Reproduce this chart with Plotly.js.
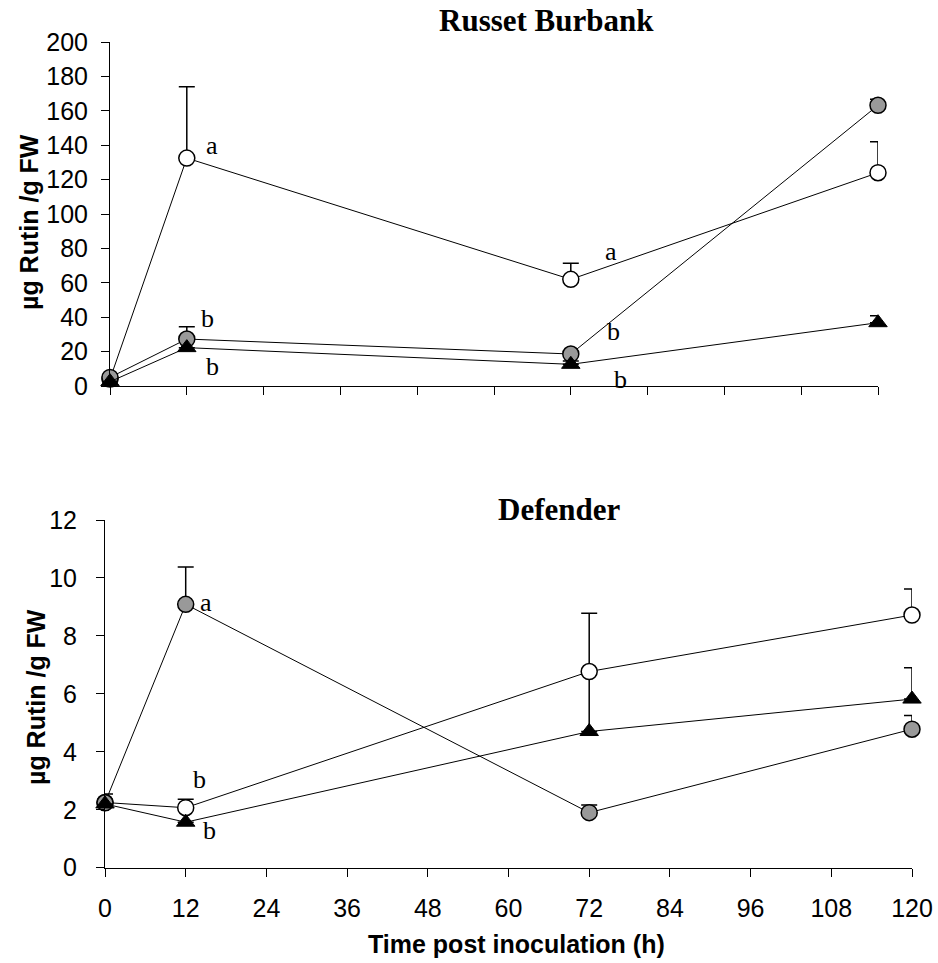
<!DOCTYPE html>
<html>
<head>
<meta charset="utf-8">
<script src="https://cdn.plot.ly/plotly-3.0.1.min.js"></script>
<style>html,body{margin:0;padding:0;background:#fff;} #chart{width:938px;height:963px;}</style>
</head>
<body>
<div id="chart"></div>
<script>
// Time points (h)
const hours = [0, 12, 72, 120];

// Russet Burbank (top)
const rbOpen = [4, 132.5, 62, 124];
const rbOpenErr = [0, 41.5, 9.3, 18];
const rbGray = [5, 27.3, 18.6, 163.2];
const rbGrayErr = [0, 7.2, 1.5, 3.5];
const rbTri = [2.5, 22.3, 12.6, 36.8];
const rbTriErr = [0, 0, 2, 4];

// Defender (bottom)
const dfOpen = [2.25, 2.07, 6.77, 8.72];
const dfOpenErr = [0.29, 0.29, 2.01, 0.9];
const dfOpenErrMinus = [0, 0, 2.17, 0];
const dfGray = [2.24, 9.09, 1.9, 4.78];
const dfGrayErr = [0, 1.29, 0.26, 0.47];
const dfTri = [2.2, 1.57, 4.7, 5.82];
const dfTriErr = [0, 0, 0, 1.08];

// Letter labels
const rbLetters = [
  {t:'a', x:15.9, y:140}, {t:'b', x:15.2, y:39.5}, {t:'b', x:16, y:11.6},
  {t:'a', x:78.3, y:78}, {t:'b', x:78.6, y:31.4}, {t:'b', x:79.8, y:4},
  {t:'a', x:123.4, y:164.5}, {t:'a', x:123.4, y:122.7}, {t:'b', x:123.4, y:39.5}
];
const dfLetters = [
  {t:'a', x:15.0, y:9.15}, {t:'b', x:14.1, y:3.06}, {t:'b', x:15.5, y:1.3}
];

const xTicks = [0, 12, 24, 36, 48, 60, 72, 84, 96, 108, 120];

const W = 938, H = 963;
const px = v => v / W;
const py = v => 1 - v / H;

function series(x, y, err, errMinus, xa, ya, marker, capw) {
  const e = {type:'data', array: err, visible:true, color:'#000', thickness:1.5, width: capw || 8};
  e.symmetric = false;
  e.arrayminus = errMinus ? errMinus : err.map(()=>0);
  return {
    x: x, y: y, xaxis: xa, yaxis: ya, type:'scatter', mode:'lines+markers',
    line:{color:'#000', width:1}, marker: marker, error_y: e, cliponaxis:false, showlegend:false, hoverinfo:'skip'
  };
}
const mOpen = {symbol:'circle', size:16, color:'#fff', line:{color:'#000', width:1.5}};
const mGray = {symbol:'circle', size:16, color:'#999', line:{color:'#000', width:1.5}};
const mTri = {symbol:'triangle-up', size:16, color:'#000', line:{color:'#000', width:1}};

const data = [
  series(hours, rbOpen, rbOpenErr, null, 'x', 'y', mOpen),
  series(hours, rbGray, rbGrayErr, null, 'x', 'y', mGray),
  series(hours, rbTri, rbTriErr, null, 'x', 'y', mTri),
  series(hours, dfOpen, dfOpenErr, dfOpenErrMinus, 'x2', 'y2', mOpen),
  series(hours, dfGray, dfGrayErr, null, 'x2', 'y2', mGray),
  series(hours, dfTri, dfTriErr, null, 'x2', 'y2', mTri)
];

const arial = {family:'Liberation Sans, Arial, sans-serif', size:25, color:'#000'};
const axBase = {
  showgrid:false, zeroline:false, showline:true, linecolor:'#000', linewidth:1,
  ticks:'outside', ticklen:8, tickwidth:1, tickcolor:'#000', tickfont: arial, fixedrange:true
};

const annotations = [];
const letterFont = {family:'Liberation Serif, Times New Roman, serif', size:26, color:'#000'};
rbLetters.forEach(l => annotations.push({xref:'x', yref:'y', x:l.x, y:l.y, text:l.t, showarrow:false,
  font:letterFont, xanchor:'center', yanchor:'middle'}));
dfLetters.forEach(l => annotations.push({xref:'x2', yref:'y2', x:l.x, y:l.y, text:l.t, showarrow:false,
  font:letterFont, xanchor:'center', yanchor:'middle'}));

const titleFont = {family:'Liberation Serif, Times New Roman, serif', size:31, color:'#000'};
annotations.push({xref:'paper', yref:'paper', x:px(546), y:py(20), text:'<b>Russet Burbank</b>', showarrow:false, font:titleFont, xanchor:'center', yanchor:'middle'});
annotations.push({xref:'paper', yref:'paper', x:px(559), y:py(510), text:'<b>Defender</b>', showarrow:false, font:titleFont, xanchor:'center', yanchor:'middle'});
const ytFont = {family:'Liberation Sans, Arial, sans-serif', size:25, color:'#000'};
annotations.push({xref:'paper', yref:'paper', x:px(29), y:py(222), text:'<b>µg Rutin /g FW</b>', textangle:-90, showarrow:false, font:ytFont, xanchor:'center', yanchor:'middle'});
annotations.push({xref:'paper', yref:'paper', x:px(36), y:py(697), text:'<b>µg Rutin /g FW</b>', textangle:-90, showarrow:false, font:ytFont, xanchor:'center', yanchor:'middle'});
annotations.push({xref:'paper', yref:'paper', x:px(516), y:py(944), text:'<b>Time post inoculation (h)</b>', showarrow:false, font:ytFont, xanchor:'center', yanchor:'middle'});

const layout = {
  width: W, height: H, margin:{l:0, r:0, t:0, b:0}, paper_bgcolor:'#fff', plot_bgcolor:'rgba(0,0,0,0)',
  showlegend:false,
  xaxis: Object.assign({}, axBase, {domain:[px(110), px(878)], range:[0,120], tickvals:xTicks, showticklabels:false, anchor:'y'}),
  yaxis: Object.assign({}, axBase, {domain:[py(386), py(42)], range:[0,200], tickvals:[0,20,40,60,80,100,120,140,160,180,200], anchor:'x', ticklabelstandoff:8}),
  xaxis2: Object.assign({}, axBase, {domain:[px(105), px(912)], range:[0,120], tickvals:xTicks, anchor:'y2', ticklabelstandoff:10}),
  yaxis2: Object.assign({}, axBase, {domain:[py(867.7), py(520)], range:[0,12], tickvals:[0,2,4,6,8,10,12], anchor:'x2', ticklabelstandoff:14}),
  annotations: annotations
};

Plotly.newPlot('chart', data, layout, {displayModeBar:false, staticPlot:true});
</script>
</body>
</html>
